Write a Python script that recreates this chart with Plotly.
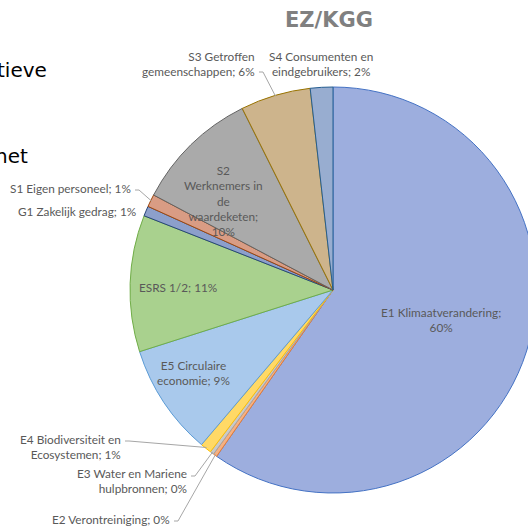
import math
import plotly.graph_objects as go

# ---------------- data ----------------
labels = [
    "E1 Klimaatverandering",
    "E2 Verontreiniging",
    "E3 Water en Mariene hulpbronnen",
    "E4 Biodiversiteit en Ecosystemen",
    "E5 Circulaire economie",
    "ESRS 1/2",
    "G1 Zakelijk gedrag",
    "S1 Eigen personeel",
    "S2 Werknemers in de waardeketen",
    "S3 Getroffen gemeenschappen",
    "S4 Consumenten en eindgebruikers",
]
values = [59.9, 0.3, 0.3, 0.9, 8.9, 10.9, 0.8, 1.0, 9.9, 5.6, 1.8]

# label text as displayed (line breaks as in the chart)
label_lines = [
    "E1 Klimaatverandering;",
    "E2 Verontreiniging;",
    "E3 Water en Mariene<br>hulpbronnen;",
    "E4 Biodiversiteit en<br>Ecosystemen;",
    "E5 Circulaire<br>economie;",
    "ESRS 1/2;",
    "G1 Zakelijk gedrag;",
    "S1 Eigen personeel;",
    "S2<br>Werknemers in<br>de<br>waardeketen;",
    "S3 Getroffen<br>gemeenschappen;",
    "S4 Consumenten en<br>eindgebruikers;",
]
pct_sep = ["<br>", " ", " ", " ", " ", " ", " ", " ", "<br>", " ", " "]

title_text = "EZ/KGG"
slide_fragments = ["tieve", "het"]

# ---------------- style ----------------
fill_colors = ["#9DAEDE", "#F4B183", "#C9C9C9", "#FFD966", "#A9C9EC", "#A9D18E",
               "#8C9FCB", "#D99C84", "#AAAAAA", "#CDB48C", "#98ADD0"]
line_colors = ["#4472C4", "#ED7D31", "#A5A5A5", "#FFC000", "#5B9BD5", "#70AD47",
               "#264478", "#9E480E", "#636363", "#997300", "#255E91"]

W, H = 540, 531          # figure is a bit wider than the 528px window; overflow is hidden
dom_px_x = (130, 536)
dom_px_y = (87, 493)      # top, bottom in pixels

def px(x):
    return x / W

def py(y):
    return 1 - y / H

fig = go.Figure()
fig.add_trace(go.Pie(
    labels=labels, values=values, sort=False, direction="clockwise", rotation=0,
    textinfo="none", hoverinfo="label+percent",
    marker=dict(colors=fill_colors, line=dict(color=line_colors, width=1)),
    domain=dict(x=[px(dom_px_x[0]), px(dom_px_x[1])], y=[py(dom_px_y[1]), py(dom_px_y[0])]),
    showlegend=False,
))

# pie geometry from domain
cx = (dom_px_x[0] + dom_px_x[1]) / 2
cy = (dom_px_y[0] + dom_px_y[1]) / 2
r = min(dom_px_x[1] - dom_px_x[0], dom_px_y[1] - dom_px_y[0]) / 2
total = sum(values)

def edge_point(i, rad=r):
    cum = sum(values[:i]) + values[i] / 2
    th = 2 * math.pi * cum / total
    return cx + rad * math.sin(th), cy - rad * math.cos(th)

texts = [label_lines[i] + pct_sep[i] + f"{round(values[i] / total * 100)}%" for i in range(len(values))]

# label placements (pixel anchor, xanchor, leader start or None)
placement = {
    0: (441, 320, "center", None),
    1: (172, 519, "right", (174, 521)),
    2: (189, 481, "right", (191, 476)),
    3: (123, 447, "right", (125, 441)),
    4: (193, 373, "center", None),
    5: (178, 287, "center", None),
    6: (138, 212, "right", None),
    7: (133, 189, "right", (135, 190)),
    8: (223, 201, "center", None),
    9: (257, 64, "right", (259, 72)),
    10: (321, 64, "center", None),
}

annotations = []
shapes = []
for i, (x, y, xa, lead) in placement.items():
    annotations.append(dict(
        x=px(x), y=py(y), xref="paper", yref="paper", text=texts[i],
        showarrow=False, xanchor=xa, yanchor="middle",
        align="right" if xa == "right" else "center",
        font=dict(family="Lato, 'Open Sans', sans-serif", size=11.8, color="#595959"),
    ))
    if lead is not None:
        ex, ey = edge_point(i, r - 1)
        mx = lead[0] + 4
        path = f"M {px(lead[0])} {py(lead[1])} L {px(mx)} {py(lead[1])} L {px(ex)} {py(ey)}"
        shapes.append(dict(type="path", xref="paper", yref="paper", path=path,
                           line=dict(color="#A6A6A6", width=1)))

# title
annotations.append(dict(
    x=px(329), y=py(20), xref="paper", yref="paper", text=f"<b>{title_text}</b>",
    showarrow=False, xanchor="center", yanchor="middle",
    font=dict(family="DejaVu Sans", size=21, color="#808080"),
))
# slide text fragments (cut off at left edge)
annotations.append(dict(x=px(49), y=py(70), xref="paper", yref="paper", text=slide_fragments[0],
                        showarrow=False, xanchor="right", yanchor="middle",
                        font=dict(family="DejaVu Sans", size=20, color="#000000")))
annotations.append(dict(x=px(30), y=py(156), xref="paper", yref="paper", text=slide_fragments[1],
                        showarrow=False, xanchor="right", yanchor="middle",
                        font=dict(family="DejaVu Sans", size=20, color="#000000")))

fig.update_layout(
    width=W, height=H, margin=dict(l=0, r=0, t=0, b=0),
    paper_bgcolor="white", plot_bgcolor="white",
    annotations=annotations, shapes=shapes,
)
fig.write_html(
    "out.html",
    config={"displayModeBar": False},
    post_script="document.body.style.margin='0';document.body.style.overflow='hidden';"
                "document.documentElement.style.overflow='hidden';",
)
